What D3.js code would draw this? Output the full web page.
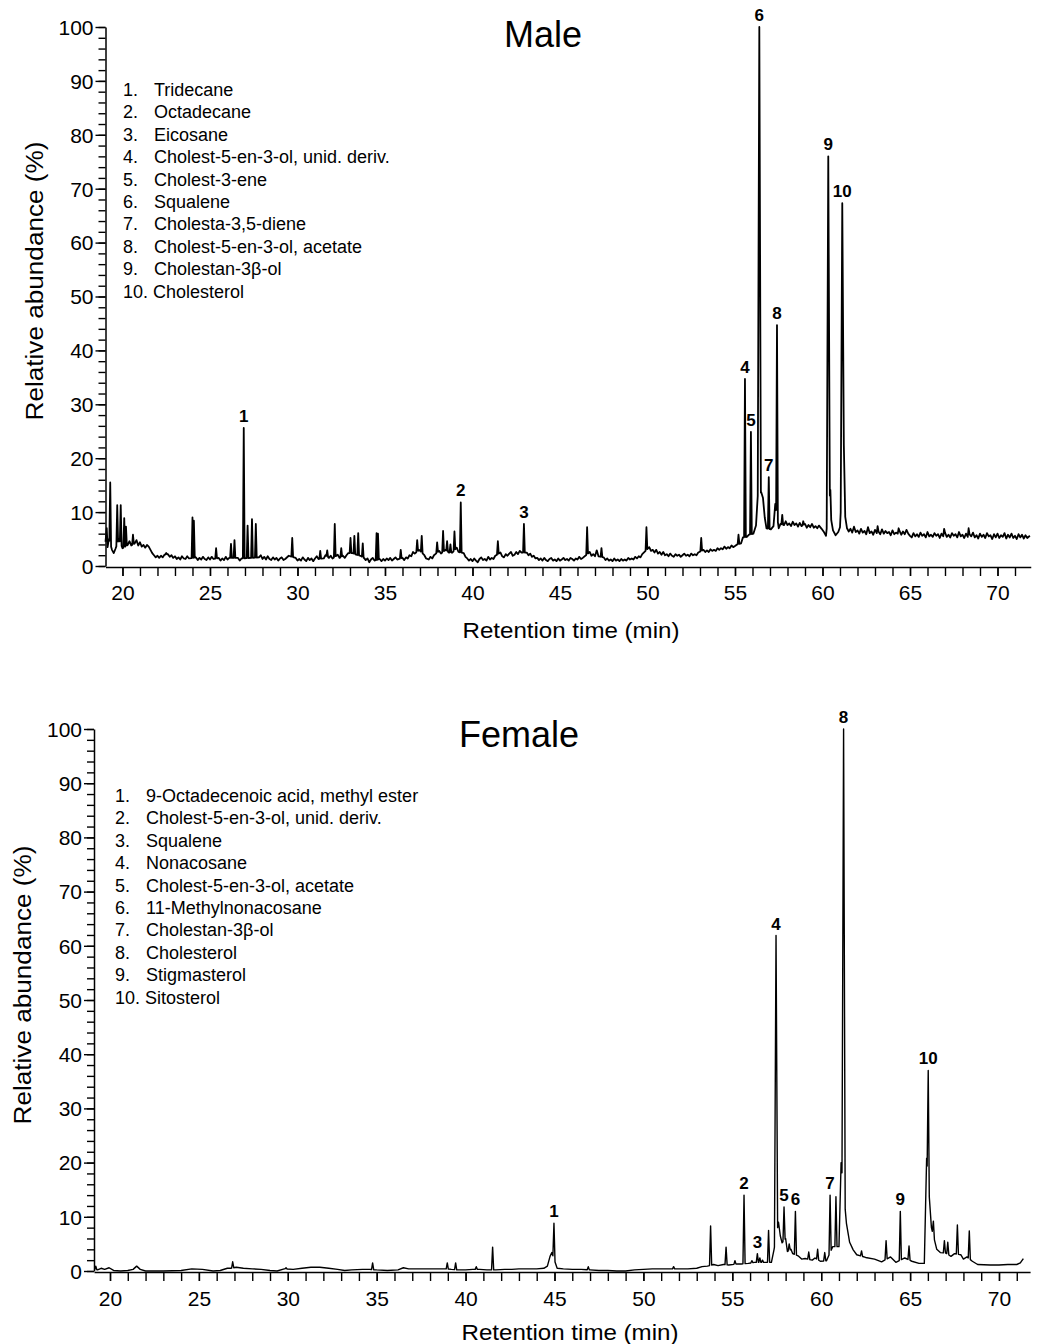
<!DOCTYPE html>
<html><head><meta charset="utf-8">
<script src="https://cdn.jsdelivr.net/npm/d3@7"></script>
<style>
body{margin:0;background:#fff}
svg{display:block}
text{font-family:"Liberation Sans",Arial,Helvetica,sans-serif;fill:#000}
</style></head>
<body><svg id="c" width="1042" height="1344"></svg>
<script>
// ---------------- DATA ----------------
const yTicks = [0,10,20,30,40,50,60,70,80,90,100];
const xTicks = [20,25,30,35,40,45,50,55,60,65,70];

const maleTitle = "Male";
const femaleTitle = "Female";
const xLabel = "Retention time (min)";
const yLabel = "Relative abundance (%)";

const maleLegend = ["Tridecane","Octadecane","Eicosane","Cholest-5-en-3-ol, unid. deriv.","Cholest-3-ene","Squalene","Cholesta-3,5-diene","Cholest-5-en-3-ol, acetate","Cholestan-3\u03b2-ol","Cholesterol"];
const femaleLegend = ["9-Octadecenoic acid, methyl ester","Cholest-5-en-3-ol, unid. deriv.","Squalene","Nonacosane","Cholest-5-en-3-ol, acetate","11-Methylnonacosane","Cholestan-3\u03b2-ol","Cholesterol","Stigmasterol","Sitosterol"];

// labelled peaks [retention time, relative abundance]
const malePeaks = [[26.93,25.6],[39.33,11.8],[42.94,7.8],[55.57,34.7],[55.91,24.9],[56.39,100],[56.93,16.5],[57.4,44.7],[60.33,76.0],[61.13,67.3]];
const femalePeaks = [[44.97,8.8],[55.66,14.0],[56.41,3.2],[57.46,61.9],[57.91,11.8],[58.55,11.0],[60.5,14.0],[61.26,100],[64.45,11.0],[66.02,37.0]];

// unlabelled minor peaks
const maleMinor = [[19.3,15.5],[19.7,11.3],[19.9,11.3],[20.1,8.9],[20.2,7.3],[20.6,5.8],[22.5,2.4],[24.0,9.0],[24.08,8.4],[25.35,3.3],[26.2,4.1],[26.4,4.8],[27.15,7.5],[27.4,8.7],[27.62,7.8],[29.7,5.2],[31.3,2.8],[31.7,2.9],[32.13,7.8],[32.5,3.3],[33.03,5.2],[33.25,5.6],[33.47,6.1],[33.73,4.2],[34.52,6.1],[34.6,6.0],[35.9,3.0],[36.84,4.8],[37.1,5.6],[37.98,4.4],[38.32,6.5],[38.55,4.6],[38.74,4.0],[38.97,6.4],[41.45,4.6],[46.55,7.2],[47.37,3.3],[49.94,7.2],[53.07,5.2],[55.2,5.8],[57.7,9.5],[58.9,8.3],[63.15,7.4],[64.35,7.0],[66.95,6.9],[68.35,7.0]];
const femaleMinor = [[19.2,0.9],[26.9,1.7],[29.9,0.6],[34.77,1.5],[38.97,1.5],[39.44,1.5],[40.6,0.8],[41.52,4.4],[46.9,0.8],[51.7,0.8],[53.78,8.3],[54.65,4.4],[55.15,1.9],[56.1,1.9],[56.55,2.4],[56.7,2.0],[57.04,7.5],[58.2,5.0],[59.3,3.5],[59.8,4.0],[60.2,3.4],[60.83,13.7],[62.27,3.7],[63.65,5.6],[64.94,4.6],[66.31,9.2],[66.93,5.6],[67.12,5.3],[67.66,8.5],[68.33,7.4]];

// baselines [retention time, relative abundance]
const maleBaseline = [[19.03,4.5],[19.1,7],[19.15,3.5],[19.22,5],[19.4,3],[19.5,2.4],[19.6,3.2],[19.8,5],[20.0,3.3],[20.3,3.9],[20.4,4.6],[20.5,3.8],[20.7,4.2],[20.8,4.8],[20.9,3.8],[21.0,4.4],[21.1,3.6],[21.2,3.9],[21.3,3.4],[21.4,3.9],[21.5,3.6],[21.6,3.0],[21.7,2.4],[21.8,2.0],[21.9,1.6],[22.0,1.9],[22.1,1.5],[22.2,1.9],[22.3,1.6],[22.4,2.1],[22.6,2.2],[22.7,1.7],[22.8,2.0],[22.9,1.5],[23.0,1.8],[23.1,1.3],[23.2,1.6],[23.3,1.2],[23.4,1.8],[23.5,1.4],[23.6,1.3],[23.7,1.8],[23.8,1.4],[24.2,1.6],[24.3,1.1],[24.4,1.5],[24.5,1.2],[24.6,1.7],[24.7,1.3],[24.8,1.1],[24.9,1.6],[25.0,1.2],[25.1,1.7],[25.2,1.3],[25.5,1.5],[25.6,1.0],[25.7,1.4],[25.8,1.1],[25.9,1.7],[26.0,1.2],[26.1,1.5],[26.6,1.5],[26.7,1.0],[26.8,1.4],[27.8,1.6],[27.9,2.0],[28.0,1.3],[28.1,1.7],[28.2,1.2],[28.3,1.8],[28.4,1.3],[28.5,1.1],[28.6,1.6],[28.7,1.2],[28.8,1.5],[28.9,1.0],[29.0,1.4],[29.1,1.6],[29.2,1.1],[29.3,1.3],[29.5,1.9],[29.9,1.5],[30.0,1.0],[30.1,1.3],[30.2,1.0],[30.3,1.6],[30.4,1.2],[30.5,0.9],[30.6,1.5],[30.7,1.1],[30.8,1.4],[30.9,0.9],[31.0,1.4],[31.1,1.8],[31.2,1.3],[31.5,1.4],[31.6,2.0],[31.8,1.5],[31.9,1.9],[32.0,1.4],[32.3,2.1],[32.4,1.5],[32.6,1.9],[32.7,1.5],[32.8,2.0],[32.9,2.4],[33.15,2.4],[33.35,2.1],[33.6,1.9],[33.8,1.5],[33.9,1.1],[34.0,1.4],[34.1,0.7],[34.2,1.2],[34.3,1.5],[34.4,1.0],[34.7,1.3],[34.8,0.9],[34.9,1.3],[35.0,1.0],[35.1,1.4],[35.2,1.1],[35.3,1.5],[35.4,1.0],[35.5,1.3],[35.6,1.6],[35.7,1.2],[36.0,1.5],[36.1,1.1],[36.2,1.6],[36.3,1.4],[36.4,2.0],[36.5,1.8],[36.6,2.6],[36.7,2.3],[36.95,3.0],[37.25,2.0],[37.35,1.4],[37.5,1.2],[37.6,1.7],[37.7,1.4],[37.8,2.0],[38.1,2.8],[38.2,2.3],[38.45,3.0],[38.65,2.5],[38.85,2.5],[39.1,3.4],[39.2,2.6],[39.5,2.4],[39.6,1.7],[39.7,1.4],[39.8,1.0],[39.9,1.3],[40.0,0.9],[40.1,1.4],[40.2,1.0],[40.3,0.7],[40.4,1.3],[40.5,1.6],[40.6,1.1],[40.7,1.3],[40.8,1.0],[40.9,1.7],[41.0,1.2],[41.1,1.5],[41.2,1.3],[41.3,1.9],[41.6,2.5],[41.7,1.8],[41.8,1.6],[41.9,2.2],[42.0,1.9],[42.1,2.3],[42.2,2.6],[42.3,1.9],[42.4,2.1],[42.5,2.6],[42.6,2.2],[42.7,2.8],[42.8,2.5],[43.1,2.5],[43.2,2.0],[43.3,2.3],[43.4,1.7],[43.5,1.9],[43.6,1.4],[43.7,1.5],[43.8,1.1],[43.9,1.4],[44.0,1.0],[44.1,1.5],[44.2,1.1],[44.3,0.9],[44.4,1.3],[44.5,1.5],[44.6,1.0],[44.7,1.2],[44.8,0.9],[44.9,1.4],[45.0,1.0],[45.1,1.2],[45.2,1.5],[45.3,1.1],[45.4,1.3],[45.5,1.0],[45.6,1.5],[45.7,1.3],[45.8,1.0],[45.9,1.4],[46.0,1.2],[46.1,1.7],[46.2,1.3],[46.3,1.5],[46.7,2.6],[46.8,1.9],[46.9,2.2],[47.0,1.8],[47.1,2.9],[47.2,1.8],[47.5,1.6],[47.6,1.1],[47.7,1.4],[47.8,1.0],[47.9,1.2],[48.0,0.9],[48.1,1.4],[48.2,1.0],[48.3,1.2],[48.4,0.9],[48.5,1.3],[48.6,1.0],[48.7,1.2],[48.8,1.0],[48.9,1.5],[49.0,1.2],[49.1,1.4],[49.2,1.2],[49.3,1.7],[49.4,1.4],[49.5,1.8],[49.6,1.6],[49.7,2.2],[50.1,3.5],[50.2,2.8],[50.3,3.0],[50.4,2.5],[50.5,3.0],[50.6,2.3],[50.7,2.6],[50.8,2.1],[50.9,2.6],[51.0,2.0],[51.1,2.2],[51.2,1.8],[51.3,2.3],[51.4,1.9],[51.5,1.7],[51.6,2.2],[51.7,1.9],[51.8,2.1],[51.9,1.7],[52.0,2.0],[52.1,2.3],[52.2,1.9],[52.3,2.1],[52.4,1.8],[52.5,2.3],[52.6,2.0],[52.7,2.2],[52.8,2.0],[52.9,2.5],[53.2,3.0],[53.3,2.6],[53.4,2.9],[53.5,2.6],[53.6,3.1],[53.7,2.8],[53.8,3.0],[53.9,2.8],[54.0,3.3],[54.1,3.0],[54.2,3.3],[54.3,3.1],[54.4,3.6],[54.5,3.2],[54.6,3.5],[54.7,3.3],[54.8,3.8],[54.9,3.5],[55.0,3.7],[55.12,4.0],[55.35,4.2],[55.45,5.3],[55.68,5.4],[55.8,5.8],[56.05,6.0],[56.2,7.5],[56.3,13.0],[56.5,13.7],[56.6,12.6],[56.7,9.0],[56.8,7.0],[57.05,6.8],[57.2,7.4],[57.3,11.5],[57.5,7.0],[57.6,7.8],[57.8,7.6],[57.9,8.3],[58.0,7.6],[58.1,7.9],[58.2,7.4],[58.3,8.2],[58.4,7.6],[58.5,7.9],[58.6,7.3],[58.7,8.0],[58.8,7.4],[59.0,7.8],[59.1,7.1],[59.2,7.6],[59.3,7.2],[59.4,7.8],[59.5,7.1],[59.6,7.4],[59.7,7.0],[59.8,7.5],[59.95,6.9],[60.1,6.2],[60.2,5.6],[60.45,14.1],[60.5,8.5],[60.6,6.6],[60.75,5.7],[60.9,6.3],[61.0,7.2],[61.22,22.4],[61.3,9.1],[61.4,7.0],[61.5,6.4],[61.6,6.9],[61.7,6.2],[61.8,7.3],[61.9,6.3],[62.0,6.6],[62.1,6.0],[62.2,6.9],[62.3,6.2],[62.4,6.5],[62.5,5.9],[62.6,7.2],[62.7,6.1],[62.8,6.4],[62.9,5.8],[63.0,6.7],[63.1,6.1],[63.2,6.4],[63.3,5.9],[63.4,6.8],[63.5,6.0],[63.6,6.5],[63.7,6.1],[63.8,6.3],[63.9,5.7],[64.0,6.6],[64.1,5.9],[64.2,6.2],[64.3,6.0],[64.4,6.5],[64.5,5.8],[64.6,6.4],[64.7,5.9],[64.8,6.7],[64.9,6.0],[65.0,5.6],[65.1,5.3],[65.2,6.1],[65.3,5.5],[65.4,5.9],[65.5,5.4],[65.6,6.2],[65.7,5.6],[65.8,5.9],[65.9,5.3],[66.0,6.3],[66.1,5.5],[66.2,5.8],[66.3,5.4],[66.4,6.1],[66.5,5.6],[66.6,5.9],[66.7,5.2],[66.8,6.0],[66.9,5.5],[67.0,6.2],[67.1,5.4],[67.2,5.8],[67.3,5.3],[67.4,6.1],[67.5,5.6],[67.6,5.9],[67.7,5.3],[67.8,6.3],[67.9,5.5],[68.0,5.8],[68.1,5.2],[68.2,6.0],[68.3,5.4],[68.4,5.9],[68.5,5.5],[68.6,6.2],[68.7,5.3],[68.8,5.7],[68.9,5.1],[69.0,6.0],[69.1,5.4],[69.2,5.8],[69.3,5.2],[69.4,6.1],[69.5,5.5],[69.6,5.7],[69.7,5.0],[69.8,5.9],[69.9,5.3],[70.0,6.0],[70.1,5.2],[70.2,5.7],[70.3,5.4],[70.4,6.1],[70.5,5.1],[70.6,5.8],[70.7,5.3],[70.8,6.0],[70.9,5.2],[71.0,5.6],[71.1,5.0],[71.2,5.9],[71.3,5.3],[71.4,5.8],[71.5,5.1],[71.6,5.7],[71.7,5.2],[71.85,5.6]];

const femaleBaseline = [[19.1,0.3],[19.3,0.2],[19.5,0.5],[19.7,0.3],[19.95,0.6],[20.2,0.1],[20.6,0.0],[21.0,0.1],[21.3,0.3],[21.5,0.9],[21.7,0.3],[22.0,0.0],[23.0,0.0],[24.0,0.1],[24.6,0.4],[25.2,0.3],[25.8,0.0],[26.2,0.1],[26.6,0.5],[26.8,0.5],[27.1,0.7],[27.5,0.5],[28.0,0.4],[28.5,0.3],[29.0,0.1],[29.4,0.0],[29.8,0.4],[30.3,0.3],[30.8,0.5],[31.3,0.7],[31.8,0.7],[32.3,0.5],[32.8,0.3],[33.2,0.1],[33.6,0.2],[34.2,0.3],[34.6,0.3],[35.0,0.2],[35.6,0.1],[36.2,0.2],[36.5,0.6],[36.8,0.4],[37.5,0.4],[38.5,0.4],[38.9,0.4],[39.2,0.3],[39.6,0.2],[40.0,0.2],[40.4,0.3],[40.8,0.3],[41.2,0.2],[41.7,0.2],[42.2,0.3],[42.6,0.3],[43.0,0.4],[43.5,0.4],[44.0,0.4],[44.4,0.5],[44.6,0.9],[44.75,2.7],[44.85,3.4],[45.15,0.5],[45.5,0.4],[46.0,0.3],[46.5,0.3],[47.0,0.2],[47.5,0.1],[48.0,0.1],[48.5,0.0],[49.0,0.0],[49.5,0.2],[50.0,0.3],[50.5,0.4],[51.0,0.4],[51.5,0.4],[52.0,0.4],[52.5,0.4],[53.0,0.5],[53.3,0.8],[53.6,0.9],[53.95,1.2],[54.2,1.0],[54.5,1.2],[54.8,1.1],[55.3,1.3],[55.5,1.3],[55.9,1.4],[56.25,1.6],[56.45,1.6],[56.85,1.6],[57.2,1.6],[57.35,4.0],[57.6,9.0],[57.7,6.5],[57.8,5.2],[58.0,6.0],[58.1,3.6],[58.3,4.0],[58.4,3.2],[58.7,2.8],[58.9,2.2],[59.1,2.3],[59.5,2.0],[59.65,2.4],[59.95,1.8],[60.3,1.9],[60.65,4.5],[61.0,4.5],[61.12,20],[61.42,8.8],[61.6,5.3],[61.8,3.9],[62.0,3.0],[62.5,2.5],[63.0,2.2],[63.4,1.7],[63.9,2.6],[64.2,1.6],[64.7,2.4],[65.1,1.8],[65.5,1.4],[65.8,1.4],[65.93,20.8],[66.2,8.0],[66.5,4.0],[66.7,3.4],[67.02,3.3],[67.3,2.7],[67.5,3.2],[67.85,3.0],[68.0,2.2],[68.2,2.6],[68.5,1.8],[68.8,1.2],[69.5,1.1],[70.0,1.1],[70.5,1.2],[71.0,1.2],[71.2,1.5],[71.37,2.3]];

// ---------------- DRAWING ----------------
const svg = d3.select("#c");

function interpBase(base, t) {
  if (t <= base[0][0]) return base[0][1];
  for (let i = 1; i < base.length; i++) {
    if (t <= base[i][0]) {
      const a = base[i-1], b = base[i];
      return a[1] + (b[1]-a[1]) * (t - a[0]) / (b[0]-a[0]);
    }
  }
  return base[base.length-1][1];
}

function buildTrace(base, spikes, wSmall, wBig) {
  const sp = spikes.map(s => ({t: s[0], v: s[1], w: s[1] > 50 ? wBig : wSmall}));
  const pts = base.filter(([t]) => !sp.some(s => Math.abs(t - s.t) < s.w)).map(d => [d[0], d[1]]);
  sp.forEach(s => {
    pts.push([s.t - s.w, interpBase(base, s.t - s.w)]);
    pts.push([s.t, s.v]);
    pts.push([s.t + s.w, interpBase(base, s.t + s.w)]);
  });
  pts.sort((a, b) => a[0] - b[0]);
  return pts;
}

function drawPanel(cfg, base, minor, peaks, legend, title) {
  const g = svg.append("g");
  const x = d3.scaleLinear().domain(cfg.xd).range(cfg.xr);
  const y = d3.scaleLinear().domain([0, 100]).range(cfg.yr);
  const y0 = y(0);

  // y axis minor ticks
  g.append("g").attr("transform", `translate(${cfg.xr[0]},0)`)
    .call(d3.axisLeft(y).tickValues(d3.range(0, 101, 2)).tickSize(7).tickSizeOuter(0).tickFormat(""))
    .call(a => a.select(".domain").remove());
  // y axis major
  const ya = g.append("g").attr("transform", `translate(${cfg.xr[0]},0)`)
    .call(d3.axisLeft(y).tickValues(yTicks).tickSize(10).tickPadding(2).tickSizeOuter(0));
  ya.selectAll("text").attr("font-size", 21).attr("font-family", '"Liberation Sans",Arial,sans-serif').attr("dy", "0.35em");

  // x axis minor
  g.append("g").attr("transform", `translate(0,${y0 + 1})`)
    .call(d3.axisBottom(x).tickValues(d3.range(20, 72, 1)).tickSize(9).tickSizeOuter(0).tickFormat(""))
    .call(a => a.select(".domain").remove());
  const xa = g.append("g").attr("transform", `translate(0,${y0 + 1})`)
    .call(d3.axisBottom(x).tickValues(xTicks).tickSize(9).tickPadding(cfg.xpad).tickSizeOuter(0));
  xa.selectAll("text").attr("font-size", 21).attr("font-family", '"Liberation Sans",Arial,sans-serif');

  g.selectAll(".domain").attr("stroke", "#000").attr("stroke-width", 1.5);
  g.selectAll(".tick line").attr("stroke", "#000").attr("stroke-width", 1.4);

  // trace
  const pts = buildTrace(base, minor.concat(peaks), cfg.w, cfg.wBig);
  const line = d3.line().x(d => x(d[0])).y(d => y(d[1]));
  g.append("path").datum(pts).attr("d", line)
    .attr("fill", "none").attr("stroke", "#000").attr("stroke-width", cfg.sw).attr("stroke-linejoin", "round");

  // peak labels
  g.selectAll(".pl").data(peaks).join("text")
    .attr("x", d => x(d[0])).attr("y", d => y(d[1]) - 6)
    .attr("text-anchor", "middle").attr("font-weight", "bold").attr("font-size", 17)
    .text((d, i) => i + 1);

  // title
  g.append("text").attr("x", cfg.titleX).attr("y", cfg.titleY).attr("text-anchor", "middle")
    .attr("font-size", 36).text(title);
  // x label
  g.append("text").attr("x", cfg.xlabX).attr("y", cfg.xlabY).attr("text-anchor", "middle")
    .attr("font-size", 22.5).attr("textLength", 217).attr("lengthAdjust", "spacingAndGlyphs").text(xLabel);
  // y label
  g.append("text").attr("transform", `translate(${cfg.ylabX},${cfg.ylabY}) rotate(-90)`).attr("text-anchor", "middle")
    .attr("font-size", 23).attr("textLength", 279).attr("lengthAdjust", "spacingAndGlyphs").text(yLabel);

  // legend
  const lg = g.append("g");
  legend.forEach((name, i) => {
    const yy = cfg.legY + i * 22.4;
    if (i < 9) {
      lg.append("text").attr("x", cfg.legX).attr("y", yy).attr("font-size", 18).text((i + 1) + ".");
      lg.append("text").attr("x", cfg.legX + 31).attr("y", yy).attr("font-size", 18).text(name);
    } else {
      lg.append("text").attr("x", cfg.legX).attr("y", yy).attr("font-size", 18).text((i + 1) + ". " + name);
    }
  });
}

drawPanel({xd: [19.03, 71.9], xr: [105.5, 1030.75], yr: [566, 27], xpad: 9, w: 0.05, wBig: 0.09, sw: 1.8,
  titleX: 543, titleY: 47, xlabX: 571, xlabY: 638, ylabX: 43, ylabY: 281, legX: 123, legY: 96},
  maleBaseline, maleMinor, malePeaks, maleLegend, maleTitle);

drawPanel({xd: [19.1, 71.75], xr: [94, 1030.1], yr: [1271, 729], xpad: 10, w: 0.06, wBig: 0.09, sw: 1.4,
  titleX: 519, titleY: 747, xlabX: 570, xlabY: 1340, ylabX: 31, ylabY: 985, legX: 115, legY: 802},
  femaleBaseline, femaleMinor, femalePeaks, femaleLegend, femaleTitle);
</script></body></html>
